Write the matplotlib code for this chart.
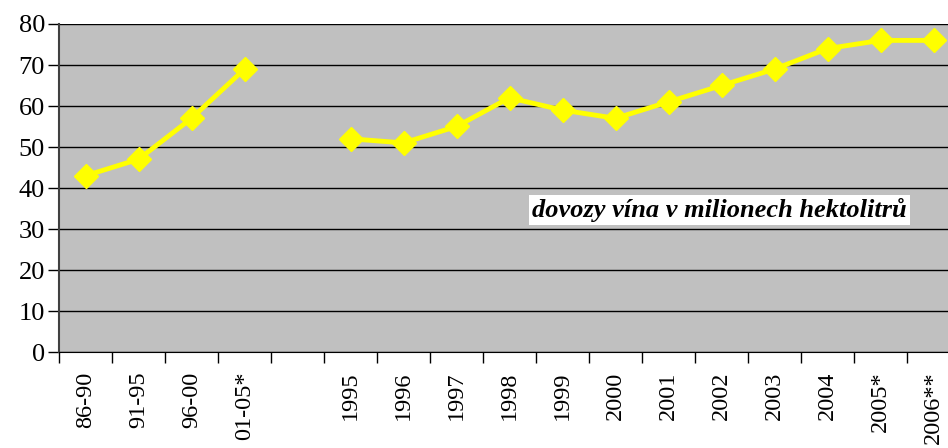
import numpy as np
import matplotlib.pyplot as plt

# categories: five-year averages, a gap, then single years
labels = ['86-90', '91-95', '96-00', '01-05*', '',
          '1995', '1996', '1997', '1998', '1999', '2000',
          '2001', '2002', '2003', '2004', '2005*', '2006**']
imports = [43, 47, 57, 69, np.nan,
           52, 51, 55, 62, 59, 57, 61, 65, 69, 74, 76, 76]

plt.rcParams['font.family'] = 'Liberation Serif'

fig = plt.figure(figsize=(9.48, 4.48), dpi=100)
# plot area runs past the right edge of the figure
ax = fig.add_axes([59 / 948, 96 / 448, 901 / 948, 328 / 448])
ax.set_facecolor('#c0c0c0')

x = np.arange(len(labels))
ax.plot(x, imports, color='#ffff00', lw=3.5, marker='D', ms=12,
        mec='#ffff00', mfc='#ffff00', zorder=3)

ax.set_xlim(-0.5, len(labels) - 0.5)
ax.set_ylim(0, 80)
ax.set_yticks(range(0, 81, 10))
ax.grid(axis='y', color='black', lw=1)
ax.set_axisbelow(True)

# labels at category centres, tick marks at the boundaries
ax.set_xticks(x)
ax.set_xticklabels(labels, rotation=90, va='top')
ax.set_xticks(np.arange(-0.5, len(labels), 1), minor=True)
ax.tick_params(axis='x', which='major', length=0, pad=14, labelsize=17.5)
ax.tick_params(axis='x', which='minor', length=8, width=1, direction='out')
ax.tick_params(axis='y', length=8, width=1, direction='out', labelsize=19, pad=2)

for s in ['top', 'right']:
    ax.spines[s].set_visible(False)
ax.spines['left'].set_color('#404040')
ax.spines['left'].set_linewidth(1.5)
ax.spines['bottom'].set_color('black')

ax.text(8.43, 34.6, 'dovozy vína v milionech hektolitrů',
        fontsize=19, fontweight='bold', fontstyle='italic',
        ha='left', va='center',
        bbox=dict(facecolor='white', edgecolor='none', pad=2))

fig.savefig('out.png', dpi=100)
